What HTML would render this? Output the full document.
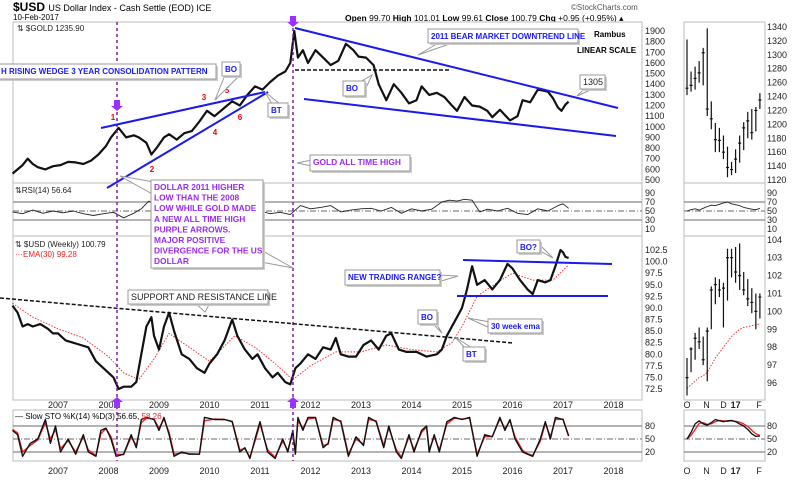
<!DOCTYPE html>
<html><head><meta charset="utf-8"><style>
body{margin:0;background:#fff;}
svg{display:block;font-family:"Liberation Sans",sans-serif;}
.ax{font-size:9px;fill:#222;}
.bl{font-weight:bold;fill:#1a1aff;font-size:8px;}
.pu{font-weight:bold;fill:#9a2bf0;font-size:8.4px;}
</style></head><body>
<svg id="c" width="800" height="480" viewBox="0 0 800 480">
<text x="13" y="11" font-size="12" font-weight="bold">$USD <tspan font-weight="normal" font-size="9">US Dollar Index - Cash Settle (EOD) ICE</tspan></text>
<text x="13" y="20" font-size="8">10-Feb-2017</text>
<text x="571" y="10" font-size="8" fill="#555">©StockCharts.com</text>
<text x="345" y="21" font-size="8.5"><tspan font-weight="bold">Open</tspan> 99.70 <tspan font-weight="bold">High</tspan> 101.01 <tspan font-weight="bold">Low</tspan> 99.61 <tspan font-weight="bold">Close</tspan> 100.79 <tspan font-weight="bold">Chg</tspan> +0.95 (+0.95%) ▴</text>
<g id="panels"></g>
<g id="marks"></g>
<g id="ann"></g>
</svg>
<script>
// ---- data ----
const goldT=[2006.1,2006.3,2006.4,2006.5,2006.6,2006.75,2006.9,2007.05,2007.2,2007.35,2007.5,2007.65,2007.8,2007.95,2008.05,2008.2,2008.35,2008.5,2008.6,2008.75,2008.85,2008.95,2009.1,2009.2,2009.35,2009.5,2009.65,2009.8,2009.95,2010.1,2010.3,2010.45,2010.6,2010.75,2010.9,2011.05,2011.2,2011.35,2011.5,2011.6,2011.68,2011.75,2011.85,2011.95,2012.1,2012.25,2012.4,2012.55,2012.7,2012.85,2012.95,2013.1,2013.25,2013.35,2013.5,2013.65,2013.8,2013.95,2014.1,2014.2,2014.35,2014.5,2014.65,2014.8,2014.9,2015.05,2015.2,2015.35,2015.5,2015.6,2015.75,2015.95,2016.1,2016.2,2016.35,2016.5,2016.6,2016.7,2016.8,2016.9,2016.97,2017.05,2017.11];
const goldV=[560,640,700,650,620,600,630,640,670,665,650,680,740,820,900,990,900,920,900,850,740,800,900,930,880,940,960,1050,1150,1100,1180,1240,1200,1300,1380,1350,1420,1480,1520,1600,1900,1650,1720,1600,1720,1650,1580,1620,1780,1720,1660,1650,1580,1400,1250,1400,1320,1220,1250,1380,1300,1320,1280,1200,1150,1280,1200,1190,1150,1090,1160,1060,1100,1250,1230,1350,1340,1330,1270,1180,1150,1210,1236];
const usdT=[2006.1,2006.2,2006.3,2006.4,2006.5,2006.65,2006.8,2006.9,2007.0,2007.15,2007.3,2007.45,2007.6,2007.75,2007.9,2008.0,2008.1,2008.2,2008.3,2008.45,2008.55,2008.65,2008.75,2008.85,2008.9,2009.0,2009.1,2009.2,2009.3,2009.45,2009.6,2009.75,2009.9,2010.0,2010.15,2010.3,2010.45,2010.55,2010.7,2010.85,2010.95,2011.1,2011.25,2011.35,2011.5,2011.6,2011.7,2011.8,2011.95,2012.1,2012.25,2012.4,2012.5,2012.6,2012.75,2012.9,2013.05,2013.2,2013.35,2013.5,2013.6,2013.75,2013.9,2014.1,2014.3,2014.5,2014.6,2014.7,2014.8,2014.9,2015.0,2015.1,2015.2,2015.3,2015.45,2015.6,2015.75,2015.9,2016.0,2016.15,2016.3,2016.4,2016.5,2016.65,2016.75,2016.85,2016.95,2017.0,2017.05,2017.11];
const usdV=[90.5,89,86,86.5,86,86.5,85.5,84.5,84.5,83,82.5,82,81.5,78.5,77,76,75,72.5,73,73,74,80,86,88,84,81,86,89,85,80,79,77,76,78,80,83,87.5,84,81,79,80,77,75,76,74,73.5,77,78,80,79,81.5,81,83.5,80,79.5,79.5,82,83,81,84,84.5,81,80.5,80.5,79.5,80,81,84,86,88,90,94,99,95,96,94,96,99.5,98.5,96,94,93,96,95.5,96,99,102.5,102,101,100.8];
const emaT=[2006.1,2006.5,2007.0,2007.5,2008.0,2008.3,2008.6,2008.9,2009.2,2009.6,2010.0,2010.5,2010.9,2011.3,2011.65,2012.0,2012.5,2013.0,2013.5,2014.0,2014.5,2014.8,2015.0,2015.3,2015.7,2016.0,2016.4,2016.8,2017.11];
const emaV=[91,88,85.5,83.5,79.5,76,74.5,79,84.5,81.5,78.5,84,81.5,78,74.5,77.5,80.5,80.5,82,81,80.5,82.5,86,92.5,95.5,97.5,96,96,99.3];
const rsiT=[2006.1,2006.3,2006.5,2006.7,2006.9,2007.1,2007.3,2007.5,2007.7,2007.9,2008.1,2008.3,2008.5,2008.65,2008.8,2008.95,2009.1,2009.25,2009.4,2009.6,2009.8,2010.0,2010.2,2010.45,2010.6,2010.8,2011.0,2011.2,2011.4,2011.6,2011.8,2012.0,2012.2,2012.4,2012.6,2012.8,2013.0,2013.2,2013.4,2013.6,2013.8,2014.0,2014.2,2014.4,2014.6,2014.75,2014.9,2015.05,2015.2,2015.35,2015.5,2015.7,2015.9,2016.1,2016.3,2016.5,2016.7,2016.9,2017.0,2017.11];
const rsiV=[48,44,52,45,50,46,50,44,40,44,47,35,45,55,72,60,58,65,42,50,45,55,58,62,42,48,50,44,47,42,62,55,58,62,48,52,55,56,50,58,45,55,50,54,70,74,72,76,74,48,54,50,56,45,42,55,50,62,66,56];
const stoT=[2006.1,2006.2,2006.3,2006.45,2006.6,2006.75,2006.85,2006.95,2007.05,2007.2,2007.35,2007.5,2007.6,2007.75,2007.85,2007.95,2008.05,2008.15,2008.3,2008.45,2008.55,2008.65,2008.75,2008.9,2009.0,2009.1,2009.2,2009.3,2009.45,2009.6,2009.8,2009.9,2010.1,2010.3,2010.45,2010.6,2010.7,2010.8,2010.9,2011.0,2011.15,2011.3,2011.45,2011.55,2011.65,2011.7,2011.75,2011.85,2011.95,2012.1,2012.25,2012.35,2012.45,2012.6,2012.75,2012.9,2013.05,2013.15,2013.3,2013.45,2013.55,2013.7,2013.8,2013.95,2014.05,2014.2,2014.3,2014.35,2014.45,2014.55,2014.7,2014.85,2015.0,2015.15,2015.3,2015.45,2015.6,2015.75,2015.85,2015.95,2016.05,2016.2,2016.3,2016.4,2016.55,2016.65,2016.75,2016.85,2017.0,2017.11];
const stoK=[70,60,10,40,50,95,40,80,20,50,15,60,20,10,70,75,50,10,15,60,30,95,100,95,70,100,60,10,20,15,15,100,95,95,90,20,30,5,50,90,20,5,50,20,70,15,100,70,100,100,30,40,100,90,10,55,35,100,90,30,80,20,5,60,20,70,80,20,60,20,90,100,95,100,10,60,55,100,70,95,50,20,15,10,50,90,50,100,95,57];
const stoD=[72,64,20,35,48,88,50,72,28,46,20,55,25,12,62,74,55,15,14,55,35,88,98,96,75,96,65,15,18,16,15,92,96,95,91,25,28,8,45,85,25,8,45,24,65,20,92,75,96,99,35,38,95,92,15,50,38,95,92,35,75,25,8,55,25,65,78,25,55,25,85,98,96,98,15,55,56,96,74,92,55,24,16,12,45,86,55,95,96,58];
// mini panels (weekly, Oct 2016 - Feb 2017)
const mgH=[1322,1276,1283,1291,1310,1338,1233,1202,1195,1184,1168,1146,1164,1184,1203,1218,1222,1225,1245];
const mgL=[1242,1247,1250,1260,1256,1212,1193,1160,1160,1150,1124,1127,1130,1145,1163,1180,1178,1190,1222];
const mgC=[1252,1256,1266,1274,1303,1222,1208,1178,1177,1160,1138,1135,1150,1173,1195,1205,1188,1220,1235];
const muH=[97.4,98.0,98.8,99.1,98.6,99.1,101.4,101.9,101.8,101.6,103.5,103.5,103.6,103.8,102.2,101.8,101.3,101.0,101.0];
const muL=[95.3,96.6,97.3,97.9,97.0,96.1,99.0,100.4,100.8,99.1,100.6,101.9,101.6,101.2,100.9,100.3,99.9,99.0,99.6];
const muC=[96.3,97.9,98.5,98.3,97.3,98.9,101.2,101.5,101.2,101.3,103.0,103.0,102.2,102.0,101.2,100.7,100.5,100.0,100.8];
const muEma=[95.7,95.9,96.1,96.3,96.4,96.6,97.0,97.4,97.7,98.0,98.3,98.6,98.8,99.0,99.1,99.15,99.2,99.25,99.3];
const mRsi=[50,53,55,52,56,60,63,62,65,68,70,66,64,62,58,56,54,53,56];
const mStoK=[50,65,85,92,85,82,88,95,92,90,92,93,90,85,80,72,62,56,57];
const mStoD=[50,58,72,86,88,84,85,90,93,92,91,92,91,89,85,79,70,62,58];
const goldTicks=[1900,1800,1700,1600,1500,1400,1300,1200,1100,1000,900,800,700,600,500];
const usdTicks=[102.5,100,97.5,95,92.5,90,87.5,85,82.5,80,77.5,75,72.5];
const rsiTicks=[90,70,50,30,10];
const stoTicks=[80,50,20];
const years=[2007,2008,2009,2010,2011,2012,2013,2014,2015,2016,2017,2018];
const mgTicks=[1340,1320,1300,1280,1260,1240,1220,1200,1180,1160,1140,1120];
const muTicks=[104,103,102,101,100,99,98,97,96];
const monthLbl=['O','N','D','17','F'];
const monthIdx=[0,4.8,9,12,17.8];

// ---- scales ----
const X=t=>58+(t-2007)*50.5;
const YG=v=>180-(v-500)*0.1064;
const YR=v=>229-(v-10)*0.45;
const YU=v=>389-(v-72.5)*4.633;
const YS=v=>452-(v-20)*0.433;
const XM=i=>687+i*4.05;
const YGM=v=>180-(v-1120)*0.6955;
const YUM=v=>383-(v-96)*17.9;

const NS='http://www.w3.org/2000/svg';
function mk(parent,tag,attrs,txt){const e=document.createElementNS(NS,tag);for(const k in attrs)e.setAttribute(k,attrs[k]);if(txt!==undefined)e.textContent=txt;parent.appendChild(e);return e;}
const P=document.getElementById('panels'),M=document.getElementById('marks'),A=document.getElementById('ann');

[[13,22,629,161,'gold-panel'],[13,183,629,53,'rsi-panel'],[13,236,629,164,'usd-panel'],[13,410,629,51,'sto-panel'],
 [684,22,81,161,'mini-gold-panel'],[684,183,81,53,'mini-rsi-panel'],[684,236,81,164,'mini-usd-panel'],[684,410,81,51,'mini-sto-panel']].forEach(p=>{
  const r=mk(P,'rect',{x:p[0],y:p[1],width:p[2],height:p[3],fill:'none',stroke:'#bbb','stroke-width':1});
  
  
});
[[YR(70),'#888',''],[YR(30),'#888',''],[YR(50),'#888','6,2,1,2'],[YS(80),'#888',''],[YS(20),'#888',''],[YS(50),'#888','6,2,1,2']].forEach(l=>{
  [[13,642],[684,765]].forEach(s=>{const e=mk(P,'line',{x1:s[0],x2:s[1],y1:l[0],y2:l[0],stroke:l[1],'stroke-width':1.2,'stroke-dasharray':l[2]||'none'});
  
  });
});
goldTicks.forEach(v=>{const e=mk(P,'text',{x:645,y:YG(v)+3,class:'ax'},v);});
usdTicks.forEach(v=>{const e=mk(P,'text',{x:645,y:YU(v)+3,class:'ax'},v.toFixed(1));});
rsiTicks.forEach(v=>{[645,767].forEach(x=>{const e=mk(P,'text',{x:x,y:YR(v)+3,class:'ax'},v);});});
stoTicks.forEach(v=>{[645,767].forEach(x=>{const e=mk(P,'text',{x:x,y:YS(v)+3,class:'ax'},v);});});
mgTicks.forEach(v=>{const e=mk(P,'text',{x:767,y:YGM(v)+3,class:'ax'},v);});
muTicks.forEach(v=>{const e=mk(P,'text',{x:767,y:YUM(v)+3,class:'ax'},v);});
years.forEach(y=>{[408,474].forEach(yy=>{const e=mk(P,'text',{x:X(y),y:yy,class:'ax','text-anchor':'middle'},y);});});
monthLbl.forEach((m,i)=>{[408,474].forEach(yy=>{const e=mk(P,'text',{x:XM(monthIdx[i]),y:yy,class:'ax','text-anchor':'middle','font-weight':m==='17'?'bold':'normal'},m);});});

function line(ts,vs,xf,yf,col,w,dash,name){
  const d=ts.map((t,i)=>(i?'L':'M')+xf(t).toFixed(1)+','+yf(vs[i]).toFixed(1)).join('');
  const e=mk(M,'path',{d:d,fill:'none',stroke:col,'stroke-width':w,'stroke-dasharray':dash||'none','stroke-linejoin':'round'});
  
  
}
line(goldT,goldV,X,YG,'#111',2.2,'','gold-price-line');
line(rsiT,rsiV,X,YR,'#222',0.9,'','rsi-line');
line(emaT,emaV,X,YU,'#e33',1,'1.5,1.5','usd-ema30-line');
line(usdT,usdV,X,YU,'#111',2.2,'','usd-price-line');
line(stoT,stoD,X,YS,'#e22',1.4,'','sto-d-line');
line(stoT,stoK,X,YS,'#111',1.4,'','sto-k-line');
const idx=mgC.map((_,i)=>i);
line(idx,mRsi,XM,YR,'#222',0.9,'','mini-rsi-line');
line(idx,muEma,XM,YUM,'#e33',1,'1.5,1.5','mini-usd-ema-line');
line(idx,mStoD,XM,YS,'#e22',1.3,'','mini-sto-d-line');
line(idx,mStoK,XM,YS,'#111',1.3,'','mini-sto-k-line');
function bars(H,L,C,yf,name){H.forEach((h,i)=>{const x=XM(i);
  const b=mk(M,'path',{d:`M${x},${yf(h)}V${yf(L[i])}M${x-1.5},${yf(C[i])}H${x+1.5}`,stroke:'#111','stroke-width':1.2,fill:'none'});
  
  });}
bars(mgH,mgL,mgC,YGM,'mini-gold-bar');
bars(muH,muL,muC,YUM,'mini-usd-bar');

function seg(x1,y1,x2,y2,col,w,dash,name){const e=mk(A,'line',{x1,y1,x2,y2,stroke:col,'stroke-width':w,'stroke-dasharray':dash||'none'});}
function box(x,y,w,h,lines,cls,name,ptr,lh){
  lh=lh||11;
  const g=mk(A,'g',{});
  if(ptr)mk(g,'polyline',{points:ptr,fill:'#fff',stroke:'#999','stroke-width':1});
  mk(g,'rect',{x:x+2,y:y+2,width:w,height:h,fill:'#ccc'});
  mk(g,'rect',{x,y,width:w,height:h,fill:'#fff',stroke:'#999','stroke-width':1});
  lines.forEach((t,i)=>mk(g,'text',{x:x+3,y:y+10+i*lh,class:cls},t));
  return g;
}
seg(117,22,117,461,'#7a1fa2',1.5,'3,3','vline-2008-low');
seg(293,22,293,461,'#7a1fa2',1.5,'3,3','vline-2011-high');
[[117,100,1],[293,16,1],[117,408,-1],[293,408,-1]].forEach(a=>{const x=a[0],y=a[1],s=a[2];
  const e=mk(A,'polygon',{points:`${x-3},${y} ${x+3},${y} ${x+3},${y+6*s} ${x+6},${y+6*s} ${x},${y+11*s} ${x-6},${y+6*s} ${x-3},${y+6*s}`,fill:'#9b30ff'});
  });
seg(101,128,265,92,'#1a1aee',2,'','wedge-upper-line');
seg(107,188,268,92,'#1a1aee',2,'','wedge-lower-line');
seg(295,28,618,108,'#1a1aee',2,'','gold-downtrend-line');
seg(304,99,616,136,'#1a1aee',2,'','gold-lower-line');
seg(295,70,450,70,'#111',1.5,'4,2','gold-dashed-support');
seg(0,298,513,343,'#111',1.5,'4,2','usd-support-resistance-line');
seg(463,260,612,264,'#1a1aee',2,'','range-top-line');
seg(457,296,608,296,'#1a1aee',2,'','range-bottom-line');
[['1',113,120],['2',152,172],['3',204,100],['4',215,135],['5',227,93],['6',240,120]].forEach(n=>{const e=mk(A,'text',{x:n[1],y:n[2],'font-size':8,'font-weight':'bold',fill:'#e00','text-anchor':'middle'},n[0]);});
box(-2,64,218,15,['H RISING WEDGE 3 YEAR CONSOLIDATION PATTERN'],'bl','wedge-pattern-label');
box(222,62,18,14,['BO'],'bl','bo-label-gold-1','225,75 215,100 240,75');
box(268,103,20,14,['BT'],'bl','bt-label-gold','272,104 265,92 280,104');
box(343,81,22,15,['BO'],'bl','bo-label-gold-2','360,82 372,75 365,90');
box(428,29,150,14,['2011 BEAR MARKET DOWNTREND LINE'],'bl','bear-market-label','440,42 418,55 455,42');
box(580,75,25,14,['1305'],'ax','gold-1305-label','585,88 577,96 595,88');
box(310,155,100,16,['GOLD ALL TIME HIGH'],'pu','gold-ath-label','312,160 297,163 312,166');
box(151,180,112,88,['DOLLAR 2011 HIGHER','LOW THAN THE 2008','LOW WHILE GOLD MADE','A NEW ALL TIME HIGH','PURPLE ARROWS.','MAJOR POSITIVE','DIVERGENCE FOR THE US','DOLLAR'],'pu','divergence-note','154,182 120,176 154,195 261,262 293,268 261,250',10.6);
box(128,290,140,14,['SUPPORT AND RESISTANCE LINE'],'ax','support-resistance-label','195,303 205,312 210,303');
box(345,270,95,15,['NEW TRADING RANGE?'],'bl','trading-range-label','438,275 458,276 438,282');
box(517,240,23,13,['BO?'],'bl','bo-label-usd-1','538,243 553,258 538,250');
box(418,310,19,14,['BO'],'bl','bo-label-usd-2','432,323 442,333 436,323');
box(463,347,22,14,['BT'],'bl','bt-label-usd','465,348 455,337 472,348');
const eb=box(488,319,54,14,['30 week ema'],'bl','ema-label','490,322 468,318 490,328');
eb.querySelector('text').setAttribute('fill','#e00');
[['Rambus',594,37],['LINEAR SCALE',577,53]].forEach(t=>{const e=mk(A,'text',{x:t[1],y:t[2],'font-size':8,'font-weight':'bold'},t[0]);});
const lbls=[['⇅ $GOLD 1235.90',17,31,'#222'],['⇅RSI(14) 56.64',15,193,'#222'],['⇅ $USD (Weekly) 100.79',15,247,'#222'],['···EMA(30) 99.28',15,257,'#e22']];
lbls.forEach(l=>{const e=mk(A,'text',{x:l[1],y:l[2],'font-size':8,fill:l[3]},l[0]);});
const st=mk(A,'text',{x:15,y:419,'font-size':8},'— Slow STO %K(14) %D(3) 56.65, ');


mk(st,'tspan',{fill:'#e22'},'58.26');
</script>
</body></html>
